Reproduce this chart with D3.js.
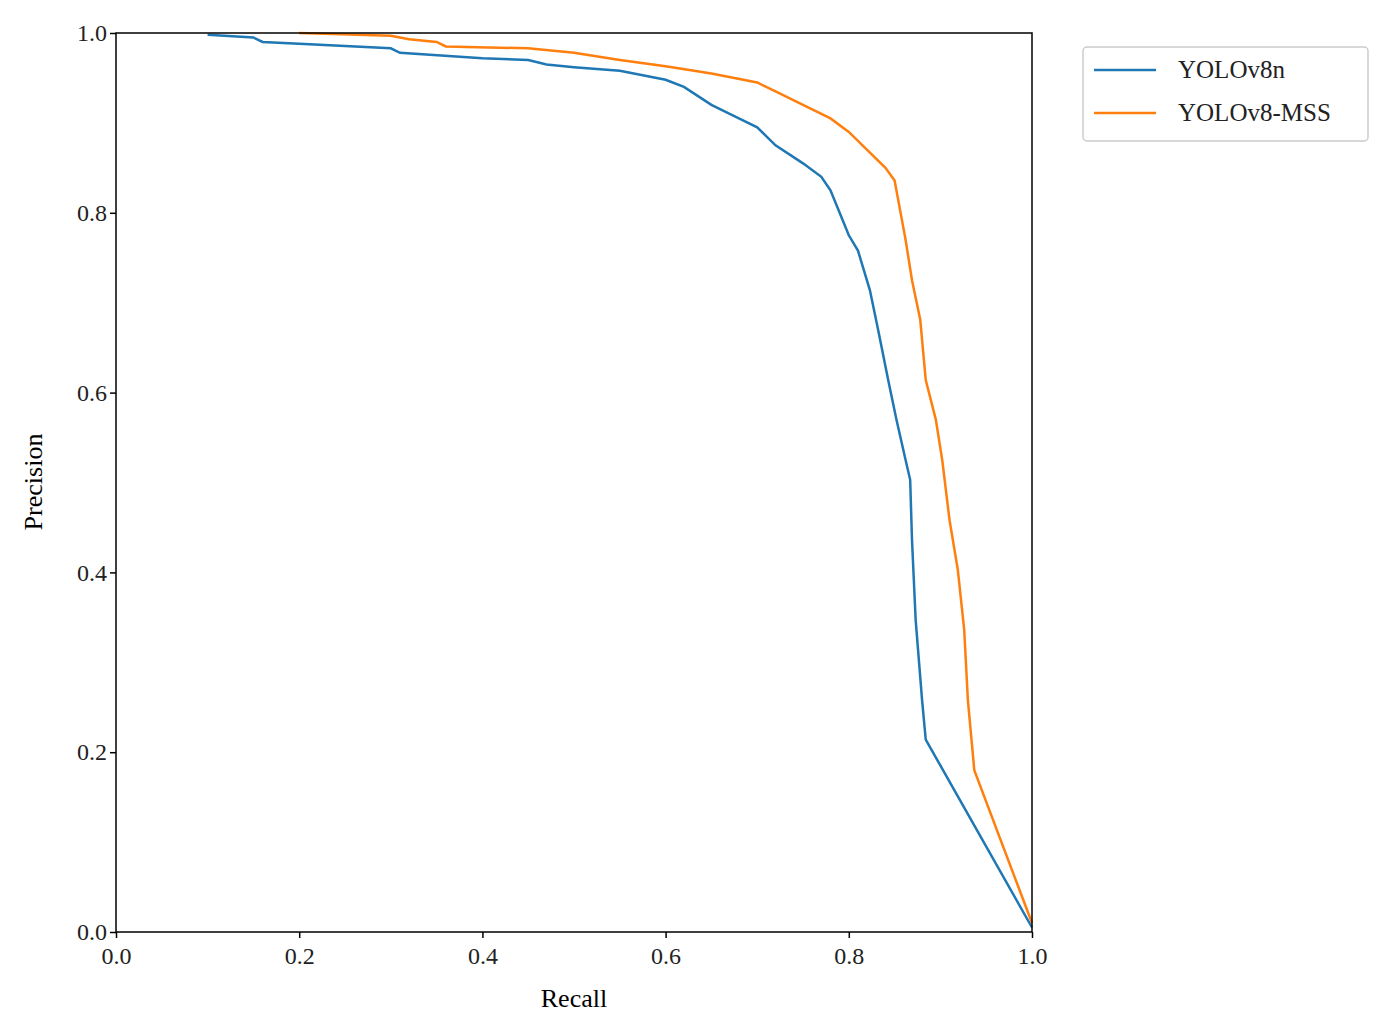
<!DOCTYPE html>
<html><head><meta charset="utf-8">
<script src="https://cdn.jsdelivr.net/npm/d3@7"></script>
<style>body{margin:0;background:#fff}text{font-family:"Liberation Serif","DejaVu Serif",serif}</style>
</head><body>
<svg id="chart" width="1383" height="1026"></svg>
<script>
var seriesNames = ['YOLOv8n', 'YOLOv8-MSS'];
var seriesColors = ['#1f77b4', '#ff7f0e'];
var tickValues = [0, 0.2, 0.4, 0.6, 0.8, 1.0];

var recallV8n = [0.10,0.15,0.16,0.2,0.3,0.31,0.4,0.45,0.47,0.5,0.55,0.6,0.62,0.65,0.68,0.7,0.72,0.75,0.77,0.78,0.79,0.8,0.81,0.823,0.832,0.843,0.852,0.862,0.867,0.869,0.873,0.880,0.884,1.0];
var precV8n =   [0.998,0.995,0.99,0.988,0.983,0.978,0.972,0.970,0.965,0.962,0.958,0.948,0.94,0.92,0.905,0.895,0.875,0.855,0.84,0.825,0.80,0.775,0.758,0.714,0.67,0.614,0.57,0.525,0.503,0.436,0.347,0.258,0.214,0.005];
var recallMSS = [0.2,0.3,0.32,0.35,0.36,0.45,0.5,0.55,0.6,0.65,0.7,0.72,0.75,0.78,0.8,0.82,0.84,0.85,0.856,0.862,0.869,0.878,0.884,0.895,0.902,0.910,0.919,0.926,0.930,0.937,1.0];
var precMSS =   [1.0,0.997,0.993,0.99,0.985,0.983,0.978,0.970,0.963,0.955,0.945,0.935,0.92,0.905,0.89,0.87,0.85,0.836,0.803,0.77,0.725,0.681,0.614,0.57,0.525,0.458,0.403,0.336,0.258,0.18,0.01];

var svg = d3.select('#chart');
var x = d3.scaleLinear().domain([0,1]).range([116,1032]);
var y = d3.scaleLinear().domain([0,1]).range([932,33]);

var line = d3.line().x(function(d){return x(d[0])}).y(function(d){return y(d[1])});
[[recallV8n,precV8n],[recallMSS,precMSS]].forEach(function(s,i){
	svg.append('path').datum(d3.zip(s[0],s[1])).attr('d',line)
		.attr('fill','none').attr('stroke',seriesColors[i]).attr('stroke-width',2.5);
});

svg.append('rect').attr('x',116).attr('y',33).attr('width',916).attr('height',899)
	.attr('fill','none').attr('stroke','#000').attr('stroke-width',1.5);

var xa = svg.append('g').attr('transform','translate(0,932)')
	.call(d3.axisBottom(x).tickValues(tickValues).tickFormat(d3.format('.1f')).tickSizeOuter(0).tickSize(6));
var ya = svg.append('g').attr('transform','translate(116,0)')
	.call(d3.axisLeft(y).tickValues(tickValues).tickFormat(d3.format('.1f')).tickSizeOuter(0).tickSize(6));
[xa,ya].forEach(function(a){
	a.select('.domain').remove();
	a.selectAll('text').attr('font-size',24).attr('fill','#222');
	a.selectAll('line').attr('stroke-width',1.5);
});
xa.selectAll('text').attr('dy','0.95em');

svg.append('text').attr('x',574).attr('y',1007).attr('text-anchor','middle').attr('font-size',26).text('Recall');
svg.append('text').attr('transform','translate(42,482) rotate(-90)').attr('text-anchor','middle').attr('font-size',26).text('Precision');

var lg = svg.append('g');
lg.append('rect').attr('x',1083).attr('y',47).attr('width',285).attr('height',94).attr('rx',4)
	.attr('fill','#fff').attr('stroke','#ccc').attr('stroke-width',1.5);
seriesNames.forEach(function(n,i){
	var yy = 70 + i*43;
	lg.append('line').attr('x1',1094).attr('x2',1156).attr('y1',yy).attr('y2',yy)
		.attr('stroke',seriesColors[i]).attr('stroke-width',2.5);
	lg.append('text').attr('x',1178).attr('y',yy+8).attr('font-size',25).attr('fill','#222').text(n);
});
</script>
</body></html>
